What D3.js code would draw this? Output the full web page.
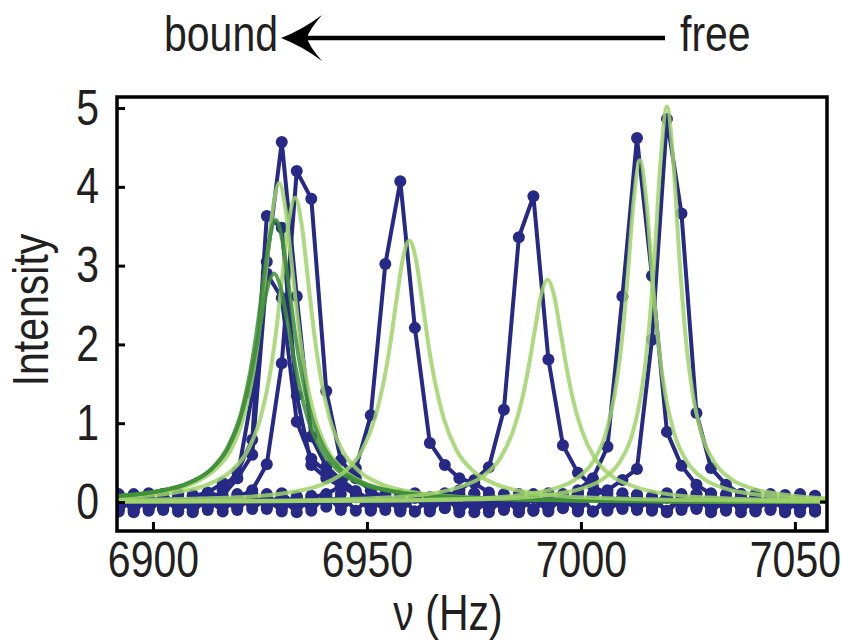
<!DOCTYPE html>
<html>
<head>
<meta charset="utf-8">
<script src="https://cdn.jsdelivr.net/npm/d3@7"></script>
<style>
  body { margin: 0; background: #fff; }
  text { font-family: 'Liberation Sans', Arial, sans-serif; fill: #231f20; }
</style>
</head>
<body>
<div id="chart"></div>
<script>

// frequency grid of the spectra (Hz)
var nu = [6892.0, 6895.5, 6899.0, 6902.4, 6905.9, 6909.3, 6912.8, 6916.3,
          6919.7, 6923.2, 6926.6, 6930.1, 6933.6, 6937.0, 6940.5, 6943.9,
          6947.4, 6950.9, 6954.3, 6957.8, 6961.2, 6964.7, 6968.2, 6971.6,
          6975.1, 6978.5, 6982.0, 6985.5, 6988.9, 6992.4, 6995.8, 6999.3,
          7002.8, 7006.2, 7009.7, 7013.1, 7016.6, 7020.1, 7023.5, 7027.0,
          7030.4, 7033.9, 7037.4, 7040.8, 7044.3, 7047.7, 7051.2, 7054.7];

// measured intensities, one array per spectrum
var specA = [-0.06, 0.09, -0.11, 0.04, -0.08, 0.07, 0.12, 0.24,
             0.30, 1.37, 3.05, 4.57, 2.61, 0.83, 0.45, 0.28,
             0.14, 0.02, -0.10, 0.08, -0.12, 0.05, -0.07, 0.10,
             -0.13, 0.03, -0.09, 0.10, -0.11, 0.06, -0.05, 0.11,
             -0.12, 0.02, -0.08, 0.09, -0.10, 0.06, -0.04, 0.10,
             -0.13, 0.04, -0.07, 0.09, -0.10, 0.05, -0.06, 0.07];
var specB = [0.07, -0.10, 0.08, -0.06, 0.10, -0.12, 0.04, -0.03,
             0.06, 0.15, 0.48, 1.76, 4.20, 3.85, 1.41, 0.53,
             0.30, 0.15, 0.04, -0.10, 0.07, -0.09, 0.10, -0.06,
             0.08, -0.13, 0.05, -0.10, 0.09, -0.06, 0.10, -0.12,
             0.07, -0.08, 0.10, -0.10, 0.04, -0.11, 0.08, -0.06,
             0.11, -0.09, 0.05, -0.12, 0.08, -0.05, 0.06, -0.10];
var specC = [-0.10, 0.05, -0.07, 0.10, -0.12, 0.03, -0.05, 0.15,
             0.38, 0.79, 3.63, 3.48, 1.35, 0.47, 0.30, 0.20,
             0.10, -0.08, 0.06, -0.11, 0.09, -0.05, 0.11, -0.13,
             0.04, -0.09, 0.10, -0.07, 0.05, -0.12, 0.08, -0.04,
             0.10, -0.11, 0.03, -0.09, 0.07, -0.13, 0.05, -0.08,
             0.09, -0.06, 0.10, -0.11, 0.04, -0.08, 0.09, -0.12];
var specD = [0.10, -0.13, 0.06, -0.09, 0.08, -0.04, 0.11, 0.08,
             0.30, 0.60, 2.90, 2.59, 1.02, 0.55, 0.38, 0.22,
             0.12, -0.06, 0.09, -0.12, 0.05, -0.10, 0.07, -0.08,
             0.10, -0.05, 0.06, -0.13, 0.08, -0.09, 0.04, -0.10,
             0.09, -0.07, 0.11, -0.05, 0.06, -0.12, 0.10, -0.09,
             0.05, -0.11, 0.08, -0.06, 0.10, -0.13, 0.04, -0.08];
var specE = [-0.08, 0.10, -0.05, 0.07, -0.12, 0.09, -0.06, 0.04,
             -0.10, 0.08, -0.07, 0.11, -0.04, 0.06, 0.10, 0.20,
             0.43, 1.10, 3.02, 4.07, 2.21, 0.75, 0.47, 0.30,
             0.24, 0.12, -0.04, 0.09, -0.11, 0.06, -0.08, 0.10,
             -0.12, 0.05, -0.09, 0.08, -0.06, 0.11, -0.10, 0.04,
             -0.07, 0.10, -0.13, 0.06, -0.05, 0.09, -0.11, 0.07];
var specF = [0.05, -0.11, 0.09, -0.06, 0.10, -0.09, 0.04, -0.12,
             0.07, -0.05, 0.10, -0.08, 0.06, -0.11, 0.09, -0.04,
             0.08, -0.10, 0.05, -0.07, 0.11, -0.12, 0.06, 0.15,
             0.28, 0.44, 1.17, 3.36, 3.88, 1.81, 0.72, 0.37,
             0.20, 0.10, -0.06, 0.09, -0.11, 0.05, -0.08, 0.10,
             -0.12, 0.07, -0.05, 0.10, -0.09, 0.06, -0.13, 0.08];
var specG = [-0.12, 0.06, -0.08, 0.10, -0.05, 0.08, -0.10, 0.05,
             -0.07, 0.11, -0.09, 0.04, -0.13, 0.08, -0.06, 0.10,
             -0.11, 0.07, -0.04, 0.09, -0.12, 0.06, -0.08, 0.10,
             -0.05, 0.08, -0.10, 0.05, -0.09, 0.11, -0.06, 0.15,
             0.30, 0.70, 2.61, 4.62, 2.87, 0.89, 0.46, 0.22,
             0.10, -0.05, 0.09, -0.11, 0.06, -0.08, 0.10, -0.12];
var specH = [0.09, -0.07, 0.11, -0.10, 0.06, -0.13, 0.08, -0.05,
             0.10, -0.09, 0.05, -0.12, 0.07, -0.06, 0.09, -0.10,
             0.06, -0.11, 0.10, -0.04, 0.08, -0.10, 0.05, -0.09,
             0.11, -0.06, 0.07, -0.12, 0.10, -0.05, 0.06, -0.10,
             0.08, 0.15, 0.28, 0.42, 2.06, 4.86, 3.66, 1.13,
             0.43, 0.22, 0.10, -0.07, 0.09, -0.12, 0.05, -0.08];

// lorentzian fits, read at offsets (Hz) from each fit centre
var fitOffsets = [-170, -90, -60, -40, -28, -20, -15, -11, -8, -6, -4.5, -3, -1.5, 0,
                  1.5, 3, 4.5, 6, 8, 11, 15, 20, 28, 40, 60, 90, 170];
var fitCenters = [6929.5, 6933.2, 6928.7, 6928.3, 6959.9, 6992.2, 7013.8, 7020.1];
var fitA = [0, 0.01, 0.03, 0.06, 0.13, 0.24, 0.41, 0.69, 1.14, 1.66, 2.24, 2.98, 3.71, 4.05,
            3.71, 2.98, 2.24, 1.66, 1.14, 0.69, 0.41, 0.24, 0.13, 0.06, 0.03, 0.01, 0];
var fitB = [0, 0.01, 0.03, 0.06, 0.12, 0.23, 0.39, 0.66, 1.08, 1.58, 2.13, 2.84, 3.54, 3.86,
            3.54, 2.84, 2.13, 1.58, 1.08, 0.66, 0.39, 0.23, 0.12, 0.06, 0.03, 0.01, 0];
var fitC = [0, 0.01, 0.03, 0.07, 0.13, 0.25, 0.42, 0.72, 1.15, 1.64, 2.14, 2.76, 3.33, 3.58,
            3.33, 2.76, 2.14, 1.64, 1.15, 0.72, 0.42, 0.25, 0.13, 0.07, 0.03, 0.01, 0];
var fitD = [0, 0.01, 0.03, 0.06, 0.13, 0.24, 0.40, 0.66, 1.04, 1.45, 1.86, 2.32, 2.73, 2.90,
            2.73, 2.32, 1.86, 1.45, 1.04, 0.66, 0.40, 0.24, 0.13, 0.06, 0.03, 0.01, 0];
var fitE = [0, 0.01, 0.03, 0.06, 0.12, 0.23, 0.39, 0.66, 1.07, 1.52, 1.99, 2.56, 3.09, 3.32,
            3.09, 2.56, 1.99, 1.52, 1.07, 0.66, 0.39, 0.23, 0.12, 0.06, 0.03, 0.01, 0];
var fitF = [0, 0.01, 0.02, 0.05, 0.10, 0.20, 0.33, 0.56, 0.91, 1.29, 1.69, 2.17, 2.63, 2.82,
            2.63, 2.17, 1.69, 1.29, 0.91, 0.56, 0.33, 0.20, 0.10, 0.05, 0.02, 0.01, 0];
var fitG = [0, 0.01, 0.02, 0.04, 0.09, 0.17, 0.29, 0.51, 0.87, 1.34, 1.91, 2.78, 3.81, 4.34,
            3.81, 2.78, 1.91, 1.34, 0.87, 0.51, 0.29, 0.17, 0.09, 0.04, 0.02, 0.01, 0];
var fitH = [0, 0.01, 0.02, 0.04, 0.09, 0.17, 0.29, 0.51, 0.88, 1.38, 2.02, 3.03, 4.31, 5.02,
            4.31, 3.03, 2.02, 1.38, 0.88, 0.51, 0.29, 0.17, 0.09, 0.04, 0.02, 0.01, 0];
// dark fits are C and D
var fitDark = [false, false, true, true, false, false, false, false];

var xTicks = [6900, 6950, 7000, 7050];
var yTicks = [0, 1, 2, 3, 4, 5];

var spectra = [specA, specB, specC, specD, specE, specF, specG, specH];
var fits = [fitA, fitB, fitC, fitD, fitE, fitF, fitG, fitH];

var width = 841, height = 644;
var pLeft = 117, pRight = 827, pTop = 97, pBottom = 531;
var squeeze = 0.82;   // narrow the sans font

var blue = '#262a86';
var lightGreen = '#9fd468';
var darkGreen = '#3f8f37';

var svg = d3.select('#chart')
    .append('svg')
        .attr('width', width)
        .attr('height', height);

var x = d3.scaleLinear().domain([6891.6, 7057.5]).range([pLeft, pRight]);
var y = d3.scaleLinear().domain([-0.368, 5.14]).range([pBottom, pTop]);

svg.append('clipPath')
        .attr('id', 'plotclip')
    .append('rect')
        .attr('x', pLeft)
        .attr('y', pTop)
        .attr('width', pRight - pLeft)
        .attr('height', pBottom - pTop);

var plot = svg.append('g').attr('clip-path', 'url(#plotclip)');

var line = d3.line()
    .x(d => x(d[0]))
    .y(d => y(d[1]));

// blue spectra: lines and dots
spectra.forEach(function(s) {
    var pts = s.map((v, i) => [nu[i], v]);
    var g = plot.append('g');
    g.append('path')
        .datum(pts)
        .attr('fill', 'none')
        .attr('stroke', blue)
        .attr('stroke-width', 4)
        .attr('stroke-linejoin', 'round')
        .attr('d', line);
    g.selectAll('circle')
        .data(pts)
        .enter()
        .append('circle')
            .attr('cx', d => x(d[0]))
            .attr('cy', d => y(d[1]))
            .attr('r', 6)
            .attr('fill', blue);
});

// green fits on top
var fitLine = d3.line()
    .x(d => x(d[0]))
    .y(d => y(d[1]))
    .curve(d3.curveMonotoneX);

fits.forEach(function(f, j) {
    var pts = f.map((v, i) => [fitCenters[j] + fitOffsets[i], v]);
    plot.append('path')
        .datum(pts)
        .attr('fill', 'none')
        .attr('stroke', fitDark[j] ? darkGreen : lightGreen)
        .attr('stroke-width', 4)
        .attr('opacity', 0.85)
        .attr('d', fitLine);
});

// frame
svg.append('rect')
    .attr('x', pLeft)
    .attr('y', pTop)
    .attr('width', pRight - pLeft)
    .attr('height', pBottom - pTop)
    .attr('fill', 'none')
    .attr('stroke', '#000')
    .attr('stroke-width', 3.5);

// axes with inward ticks
var xAxis = svg.append('g')
    .attr('transform', 'translate(0,' + pBottom + ')')
    .call(d3.axisBottom(x).tickValues(xTicks).tickSizeInner(-9).tickSizeOuter(0).tickPadding(11).tickFormat(d3.format('d')));
xAxis.select('.domain').remove();
xAxis.selectAll('line').attr('stroke', '#000').attr('stroke-width', 3);
xAxis.selectAll('text')
    .attr('font-size', 50)
    .attr('fill', '#231f20')
    .attr('transform', 'scale(' + squeeze + ',1)');

var yPad = 18;
var yAxis = svg.append('g')
    .attr('transform', 'translate(' + pLeft + ',0)')
    .call(d3.axisLeft(y).tickValues(yTicks).tickSizeInner(-8).tickSizeOuter(0).tickPadding(yPad).tickFormat(d3.format('d')));
yAxis.select('.domain').remove();
yAxis.selectAll('line').attr('stroke', '#000').attr('stroke-width', 3);
yAxis.selectAll('text')
    .attr('font-size', 50)
    .attr('fill', '#231f20')
    .attr('x', -yPad / squeeze)
    .attr('transform', 'scale(' + squeeze + ',1)');

// small marker on right side at zero
svg.append('line')
    .attr('x1', pRight)
    .attr('x2', pRight - 7)
    .attr('y1', y(0))
    .attr('y2', y(0))
    .attr('stroke', '#000')
    .attr('stroke-width', 3);

// narrow text helper
function label(tx, ty, str, anchor, rot) {
    return svg.append('text')
        .attr('transform', 'translate(' + tx + ',' + ty + ')' + (rot ? ' rotate(' + rot + ')' : '') + ' scale(' + squeeze + ',1)')
        .attr('text-anchor', anchor)
        .attr('font-size', 50)
        .text(str);
}

// axis titles
label(448, 630, '\u03bd (Hz)', 'middle');
label(48, 310, 'Intensity', 'middle', -90);

// bound <---- free
label(278, 51, 'bound', 'end');
label(680, 51, 'free', 'start');

svg.append('line')
    .attr('x1', 300)
    .attr('x2', 665)
    .attr('y1', 38)
    .attr('y2', 38)
    .attr('stroke', '#000')
    .attr('stroke-width', 4.5);

svg.append('path')
    .attr('d', 'M281,38 Q302,30 322,15 Q309,30 307,38 Q309,46 322,61 Q302,46 281,38 Z')
    .attr('fill', '#000');

</script>
</body>
</html>
